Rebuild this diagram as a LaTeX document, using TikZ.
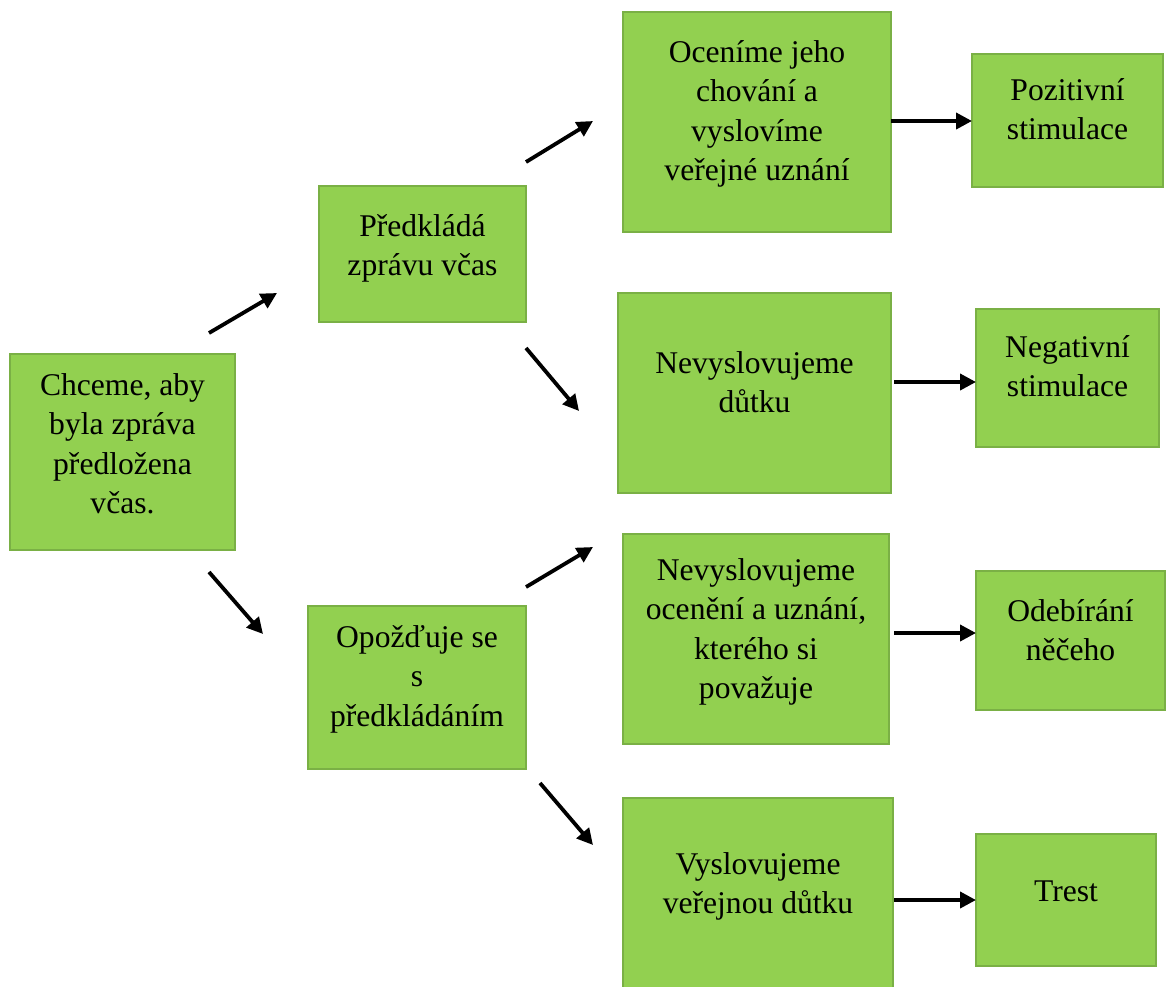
\documentclass[tikz,border=0pt]{standalone}
\usepackage{fontspec}
\setmainfont{Liberation Serif}
\usetikzlibrary{arrows.meta}
\definecolor{boxfill}{HTML}{92D050}
\definecolor{boxline}{HTML}{7AB045}
\begin{document}
\begin{tikzpicture}[x=1pt,y=-1pt,
  greenbox/.style={draw=boxline, line width=1.2pt, fill=boxfill, inner sep=0pt},
  boxtext/.style={align=center, inner sep=0pt, anchor=base, text=black, font=\fontsize{31.6}{39.5}\selectfont},
  arr/.style={line width=3.8pt, -{Triangle[length=16pt,width=16pt]}}]
\useasboundingbox (0,0) rectangle (1166,986);
% boxes
\node[greenbox, minimum width=225pt, minimum height=196pt] (b1) at (122.5,452) {};
\node[greenbox, minimum width=207pt, minimum height=136pt] (b2) at (422.5,254) {};
\node[greenbox, minimum width=218pt, minimum height=163pt] (b3) at (417,687.5) {};
\node[greenbox, minimum width=268pt, minimum height=220pt] (b4) at (757,122) {};
\node[greenbox, minimum width=273pt, minimum height=200pt] (b5) at (754.5,393) {};
\node[greenbox, minimum width=266pt, minimum height=210pt] (b6) at (756,639) {};
\node[greenbox, minimum width=270pt, minimum height=194pt] (b7) at (758,895) {};
\node[greenbox, minimum width=191pt, minimum height=133pt] (b8) at (1067.5,120.5) {};
\node[greenbox, minimum width=183pt, minimum height=138pt] (b9) at (1067.5,378) {};
\node[greenbox, minimum width=189pt, minimum height=139pt] (b10) at (1070.5,640.5) {};
\node[greenbox, minimum width=180pt, minimum height=132pt] (b11) at (1066,900) {};
% texts (anchored at the baseline of the last line)
\node[boxtext] (t1) at (122.5,513.5) {Chceme, aby\\byla zpráva\\předložena\\včas.};
\node[boxtext] (t2) at (422.5,275.5) {Předkládá\\zprávu včas};
\node[boxtext] (t3) at (417,726) {Opožďuje se\\s\\předkládáním};
\node[boxtext] (t4) at (757,180.5) {Oceníme jeho\\chování a\\vyslovíme\\veřejné uznání};
\node[boxtext] (t5) at (754.5,412.5) {Nevyslovujeme\\důtku};
\node[boxtext] (t6) at (756,698.5) {Nevyslovujeme\\ocenění a uznání,\\kterého si\\považuje};
\node[boxtext] (t7) at (758,913.5) {Vyslovujeme\\veřejnou důtku};
\node[boxtext] (t8) at (1067.5,139.5) {Pozitivní\\stimulace};
\node[boxtext] (t9) at (1067.5,396.5) {Negativní\\stimulace};
\node[boxtext] (t10) at (1070.5,660.5) {Odebírání\\něčeho};
\node[boxtext] (t11) at (1066,901) {Trest};
% arrow end points
\coordinate (a1s) at (209,333); \coordinate (a1e) at (277,293);
\coordinate (a2s) at (209,572); \coordinate (a2e) at (263,634);
\coordinate (a3s) at (526,162); \coordinate (a3e) at (593,121);
\coordinate (a4s) at (526,348); \coordinate (a4e) at (579,411);
\coordinate (a5s) at (526,587); \coordinate (a5e) at (593,547);
\coordinate (a6s) at (540,783); \coordinate (a6e) at (593,845);
\coordinate (h1s) at (891,121); \coordinate (h1e) at (972,121);
\coordinate (h2s) at (894,382); \coordinate (h2e) at (976,382);
\coordinate (h3s) at (894,633); \coordinate (h3e) at (976,633);
\coordinate (h4s) at (894,900); \coordinate (h4e) at (976,900);
% arrows
\draw[arr] (a1s) -- (a1e);
\draw[arr] (a2s) -- (a2e);
\draw[arr] (a3s) -- (a3e);
\draw[arr] (a4s) -- (a4e);
\draw[arr] (a5s) -- (a5e);
\draw[arr] (a6s) -- (a6e);
\draw[arr] (h1s) -- (h1e);
\draw[arr] (h2s) -- (h2e);
\draw[arr] (h3s) -- (h3e);
\draw[arr] (h4s) -- (h4e);
\end{tikzpicture}
\end{document}
